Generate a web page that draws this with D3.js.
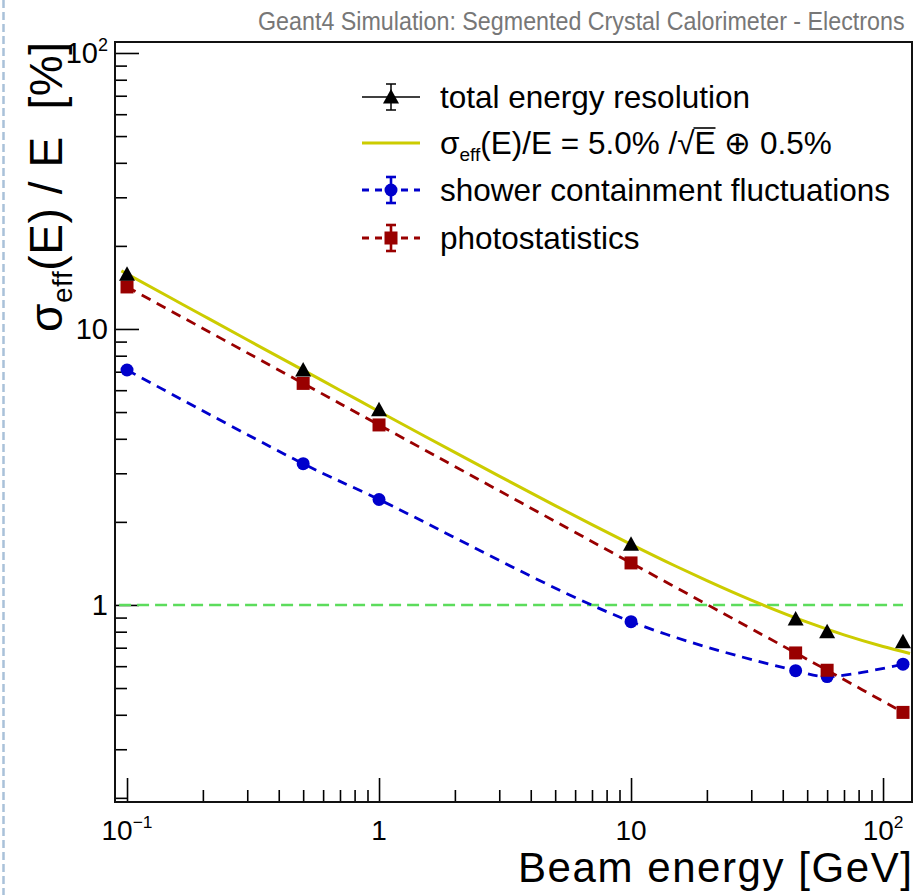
<!DOCTYPE html>
<html><head><meta charset="utf-8">
<script src="https://cdn.jsdelivr.net/npm/d3@7"></script>
<style>body{margin:0;background:#fff} svg{display:block}</style>
</head><body><svg id="c" width="919" height="895"></svg>
<script>
// ---- data ----
const energies = [0.1, 0.5, 1, 10, 45, 60, 120];
const totalRes = [15.8, 7.1, 5.1, 1.66, 0.89, 0.80, 0.735];
const showerFluct = [7.1, 3.25, 2.41, 0.87, 0.578, 0.55, 0.61];
const photoStat = [14.2, 6.35, 4.49, 1.42, 0.67, 0.58, 0.408];
const fitE = [0.095, 0.15, 0.2, 0.3, 0.5, 0.7, 1, 1.5, 2, 3, 5, 7, 10, 15, 20, 30, 50, 70, 100, 128];
const fitVal = [16.23, 12.92, 11.19, 9.14, 7.09, 6.0, 5.025, 4.113, 3.571, 2.93, 2.291, 1.955, 1.658, 1.384, 1.225, 1.041, 0.866, 0.779, 0.707, 0.667];
const refLineE = [0.093, 120];
const refLineVal = [1, 1];
const xTicks = [{v:0.1, b:"10", s:"\u22121"}, {v:1, b:"1", s:""}, {v:10, b:"10", s:""}, {v:100, b:"10", s:"2"}];
const yTicks = [{v:1, b:"1", s:""}, {v:10, b:"10", s:""}, {v:100, b:"10", s:"2"}];
const legendLabels = ["total energy resolution", "fit", "shower containment fluctuations", "photostatistics"];
const titleText = "Geant4 Simulation: Segmented Crystal Calorimeter - Electrons";

// ---- layout ----
const svg = d3.select("#c");
const F = "'Liberation Sans', Arial, Helvetica, sans-serif";
const m = {l:115, r:912, t:42, b:802};
const x = d3.scaleLog().domain([0.0896, 130.3]).range([m.l, m.r]);
const y = d3.scaleLog().domain([0.1932, 109.6]).range([m.b, m.t]);

const C = {blue:"#0000cc", red:"#990000", yellow:"#cccc00", green:"#5cdc5c"};

// left dashed border
svg.append("line").attr("x1",3.5).attr("x2",3.5).attr("y1",0).attr("y2",895)
  .attr("stroke","#a9c1d9").attr("stroke-width",2.5).attr("stroke-dasharray","8 4");

// title (condensed face, horizontally fitted to the reference width)
const titleG = svg.append("g");
const tt = titleG.append("text").attr("x",0).attr("y",0)
  .attr("font-family","'Liberation Sans Narrow', 'Liberation Sans', Arial, sans-serif")
  .attr("font-size",25).attr("fill","#777").text(titleText);
const natW = tt.node().getComputedTextLength() || 647;
titleG.attr("transform",`translate(258,30) scale(${647/natW},1)`);

// clip
svg.append("clipPath").attr("id","clip").append("rect")
  .attr("x",m.l).attr("y",m.t).attr("width",m.r-m.l).attr("height",m.b-m.t);

// ticks
function minorVals(lo, hi){const out=[];for(let d=-1;d<=2;d++){for(let k=1;k<=9;k++){const v=k*Math.pow(10,d);if(v>=lo&&v<=hi)out.push(v);}}return out;}
const yMaj = [1,10,100], xMaj=[0.1,1,10,100];
const yMin = minorVals(0.1932,109.6).filter(v=>!yMaj.includes(v));
const xMin = minorVals(0.0896,130.3).filter(v=>!xMaj.some(t=>Math.abs(t-v)<1e-9));

function styleAxis(g){g.select(".domain").remove();g.selectAll("line").attr("stroke","#000").attr("stroke-width",1.6);g.selectAll("text").remove();}
svg.append("g").attr("transform",`translate(${m.l},0)`).call(d3.axisRight(y).tickValues(yMin).tickSize(12)).call(styleAxis);
svg.append("g").attr("transform",`translate(${m.l},0)`).call(d3.axisRight(y).tickValues(yMaj).tickSize(24)).call(styleAxis);
svg.append("g").attr("transform",`translate(0,${m.b})`).call(d3.axisTop(x).tickValues(xMin).tickSize(12)).call(styleAxis);
svg.append("g").attr("transform",`translate(0,${m.b})`).call(d3.axisTop(x).tickValues(xMaj).tickSize(24)).call(styleAxis);

// frame
svg.append("rect").attr("x",m.l).attr("y",m.t).attr("width",m.r-m.l).attr("height",m.b-m.t)
  .attr("fill","none").attr("stroke","#111").attr("stroke-width",2);

// tick labels
function lab(sel, t, fs){sel.append("tspan").text(t.b); if(t.s){sel.append("tspan").attr("dy",-12).attr("font-size",fs*0.62).text(t.s);}}
yTicks.forEach(t=>{const tx=svg.append("text").attr("x",108).attr("y",y(t.v)+10).attr("text-anchor","end")
  .attr("font-family",F).attr("font-size",29).attr("fill","#000"); lab(tx,t,29);});
xTicks.forEach(t=>{const tx=svg.append("text").attr("x",x(t.v)).attr("y",840).attr("text-anchor","middle")
  .attr("font-family",F).attr("font-size",28).attr("fill","#000"); lab(tx,t,28);});

// axis titles
svg.append("text").attr("x",912).attr("y",882).attr("text-anchor","end").attr("font-family",F)
  .attr("font-size",42).attr("textLength",394).attr("lengthAdjust","spacing").text("Beam energy [GeV]");
const yt = svg.append("text").attr("transform","translate(62,42) rotate(-90)").attr("text-anchor","end")
  .attr("font-family",F).attr("font-size",46).attr("textLength",290).attr("lengthAdjust","spacing");
yt.append("tspan").text("\u03c3");
yt.append("tspan").attr("dy",10).attr("font-size",28).text("eff");
yt.append("tspan").attr("dy",-10).text("(E) / E  [%]").attr("xml:space","preserve");

// plot content
const plot = svg.append("g").attr("clip-path","url(#clip)");
const pts = (xs, ys) => xs.map((v,i)=>[x(v), y(ys[i])]);
const smooth = d3.line().curve(d3.curveCatmullRom.alpha(0.5));
const straight = d3.line();
const mono = d3.line().curve(d3.curveMonotoneX);

plot.append("path").attr("d", straight(pts(refLineE, refLineVal))).attr("fill","none")
  .attr("stroke",C.green).attr("stroke-width",2.6).attr("stroke-dasharray","12 6");
plot.append("path").attr("d", smooth(pts(energies, showerFluct))).attr("fill","none")
  .attr("stroke",C.blue).attr("stroke-width",2.8).attr("stroke-dasharray","10 7");
plot.append("path").attr("d", smooth(pts(energies, photoStat))).attr("fill","none")
  .attr("stroke",C.red).attr("stroke-width",2.8).attr("stroke-dasharray","10 7");
plot.append("path").attr("d", mono(pts(fitE, fitVal))).attr("fill","none")
  .attr("stroke",C.yellow).attr("stroke-width",3);

function triangle(g, cx, cy){g.append("path").attr("d","M0,-8L8,6.5L-8,6.5Z").attr("transform",`translate(${cx},${cy})`).attr("fill","#000");}
function square(g, cx, cy, c){g.append("rect").attr("x",cx-6.5).attr("y",cy-6.5).attr("width",13).attr("height",13).attr("fill",c);}
function circle(g, cx, cy, c){g.append("circle").attr("cx",cx).attr("cy",cy).attr("r",6.5).attr("fill",c);}

energies.forEach((e,i)=>{
  circle(plot, x(e), y(showerFluct[i]), C.blue);
  square(plot, x(e), y(photoStat[i]), C.red);
  triangle(plot, x(e), y(totalRes[i]));
});

// legend
const L = svg.append("g");
const rows = [97, 143, 190, 238];
const lx1 = 362, lx2 = 420, lmx = 391, tx = 440;
function ebar(cy, c, w){L.append("line").attr("x1",lmx).attr("x2",lmx).attr("y1",cy-13).attr("y2",cy+13).attr("stroke",c).attr("stroke-width",w);
  [cy-13, cy+13].forEach(yy=>L.append("line").attr("x1",lmx-5).attr("x2",lmx+5).attr("y1",yy).attr("y2",yy).attr("stroke",c).attr("stroke-width",w));}
// row 1
L.append("line").attr("x1",lx1).attr("x2",lx2).attr("y1",rows[0]).attr("y2",rows[0]).attr("stroke","#000").attr("stroke-width",1.5);
ebar(rows[0], "#000", 1.5); triangle(L, lmx, rows[0]);
// row 2
L.append("line").attr("x1",lx1).attr("x2",lx2).attr("y1",rows[1]).attr("y2",rows[1]).attr("stroke",C.yellow).attr("stroke-width",3);
// row 3
L.append("line").attr("x1",lx1).attr("x2",lx2).attr("y1",rows[2]).attr("y2",rows[2]).attr("stroke",C.blue).attr("stroke-width",2.8).attr("stroke-dasharray","7 6");
ebar(rows[2], C.blue, 2.6); circle(L, lmx, rows[2], C.blue);
// row 4
L.append("line").attr("x1",lx1).attr("x2",lx2).attr("y1",rows[3]).attr("y2",rows[3]).attr("stroke",C.red).attr("stroke-width",2.8).attr("stroke-dasharray","7 6");
ebar(rows[3], C.red, 2.6); square(L, lmx, rows[3], C.red);

const LF = 31.5;
[0,2,3].forEach(i=>L.append("text").attr("x",tx).attr("y",rows[i]+11).attr("font-family",F).attr("font-size",LF).text(legendLabels[i]));
const t2 = L.append("text").attr("x",tx).attr("y",rows[1]+11).attr("font-family",F).attr("font-size",LF);
t2.append("tspan").text("\u03c3");
t2.append("tspan").attr("dy",7).attr("font-size",19).text("eff");
t2.append("tspan").attr("dy",-7).text("(E)/E = 5.0% /\u221aE \u2295 0.5%");
// overline of the square root
const full = t2.text();
const ir = full.indexOf("\u221a");
try{
  const er = t2.node().getExtentOfChar(ir), ee = t2.node().getExtentOfChar(ir+1);
  L.append("line").attr("x1",er.x+er.width-1).attr("x2",ee.x+ee.width).attr("y1",er.y+3).attr("y2",er.y+3)
    .attr("stroke","#000").attr("stroke-width",1.6);
}catch(e){}
</script></body></html>
